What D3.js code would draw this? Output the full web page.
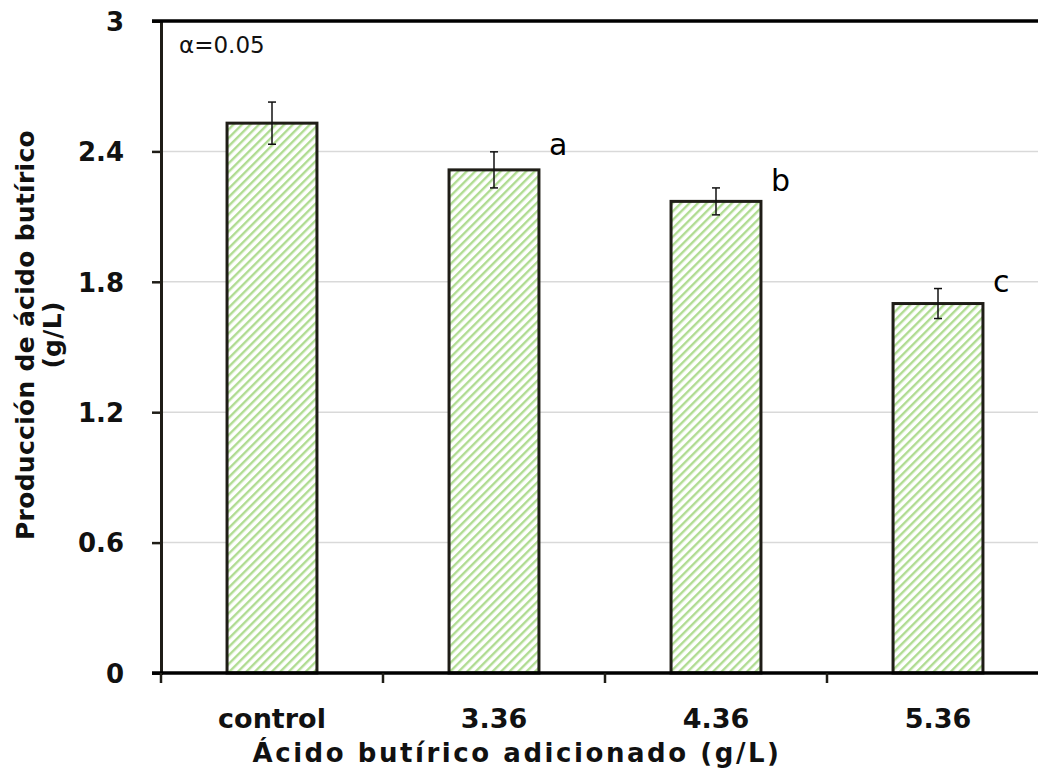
<!DOCTYPE html>
<html>
<head>
<meta charset="utf-8">
<script src="https://cdn.jsdelivr.net/npm/d3@7"></script>
<style>
  body { margin: 0; background: #fff; }
  svg { display: block; }
  svg text { font-family: "DejaVu Sans", sans-serif; }
</style>
</head>
<body>
<div id="chart"></div>
<script>
const categories = ["control", "3.36", "4.36", "5.36"]
const values = [2.53, 2.315, 2.17, 1.70]
const errors = [0.097, 0.083, 0.062, 0.069]
const letters = ["", "a", "b", "c"]
const yTicks = [0, 0.6, 1.2, 1.8, 2.4, 3]

const width = 1038
const height = 771
const margin = { top: 21, right: 0, bottom: 98, left: 161 }

const svg = d3.select("#chart")
  .append("svg")
  .attr("width", width)
  .attr("height", height)

// spread a text out to a wanted width with letter spacing
function spreadTo(sel, target) {
  const node = sel.node()
  const w = node.getComputedTextLength()
  const n = node.textContent.length
  if (w > 0 && n > 1) sel.style("letter-spacing", ((target - w) / n) + "px")
}

// stripe pattern for the bars
const defs = svg.append("defs")
const pattern = defs.append("pattern")
  .attr("id", "stripes")
  .attr("patternUnits", "userSpaceOnUse")
  .attr("width", 6)
  .attr("height", 6)
  .attr("patternTransform", "rotate(45)")
pattern.append("rect")
  .attr("width", 6).attr("height", 6).attr("fill", "#fff")
pattern.append("rect")
  .attr("width", 2.4).attr("height", 6).attr("fill", "#b0dc92")

const xScale = d3.scaleBand()
  .domain(categories)
  .range([margin.left, 1049])
  .paddingInner(0.595)
  .paddingOuter(0.2975)

const yScale = d3.scaleLinear()
  .domain([0, 3])
  .range([height - margin.bottom, margin.top])

// gridlines
svg.append("g")
  .selectAll("line")
  .data(yTicks.filter(d => d > 0 && d < 3))
  .enter()
  .append("line")
  .attr("x1", margin.left)
  .attr("x2", width)
  .attr("y1", d => yScale(d))
  .attr("y2", d => yScale(d))
  .attr("stroke", "#d9d9d9")
  .attr("stroke-width", 1.5)

// bars
svg.append("g")
  .selectAll("rect")
  .data(values)
  .enter()
  .append("rect")
  .attr("x", (d, i) => xScale(categories[i]))
  .attr("y", d => yScale(d))
  .attr("width", xScale.bandwidth())
  .attr("height", d => yScale(0) - yScale(d))
  .attr("fill", "url(#stripes)")
  .attr("stroke", "#1f1d17")
  .attr("stroke-width", 3)

// error bars
const cap = 4
const err = svg.append("g")
  .attr("stroke", "#111")
  .attr("stroke-width", 1.5)
values.forEach((v, i) => {
  const cx = xScale(categories[i]) + xScale.bandwidth() / 2
  const top = yScale(v + errors[i])
  const bot = yScale(v - errors[i])
  err.append("line").attr("x1", cx).attr("x2", cx).attr("y1", top).attr("y2", bot)
  err.append("line").attr("x1", cx - cap).attr("x2", cx + cap).attr("y1", top).attr("y2", top)
  err.append("line").attr("x1", cx - cap).attr("x2", cx + cap).attr("y1", bot).attr("y2", bot)
})

// significance letters
svg.append("g")
  .selectAll("text")
  .data(letters)
  .enter()
  .append("text")
  .attr("x", (d, i) => xScale(categories[i]) + xScale.bandwidth() / 2 + 55)
  .attr("y", (d, i) => yScale(values[i] + errors[i]) + 3)
  .style("font-size", "30px")
  .attr("fill", "#000")
  .text(d => d)

// Y axis
const yAxis = svg.append("g")
  .attr("transform", `translate(${margin.left},0)`)
  .call(d3.axisLeft(yScale).tickValues(yTicks).tickFormat(d => d).tickSize(9).tickPadding(28))
yAxis.attr("font-family", null).attr("font-size", null)
yAxis.select(".domain").attr("stroke", "#1f1d17").attr("stroke-width", 3)
yAxis.selectAll(".tick line").attr("stroke", "#1f1d17").attr("stroke-width", 2.5)
yAxis.selectAll("text")
  .style("font-size", "26px")
  .style("font-weight", "bold")
  .attr("fill", "#111")
  .attr("dy", "0.36em")

// top border
svg.append("line")
  .attr("x1", margin.left - 9)
  .attr("x2", width)
  .attr("y1", yScale(3))
  .attr("y2", yScale(3))
  .attr("stroke", "#000")
  .attr("stroke-width", 3.5)

// X axis
const xTickPos = categories.map(c => xScale(c) - xScale.step() * xScale.paddingInner() / 2)
const xAxis = svg.append("g")
xAxis.append("line")
  .attr("x1", margin.left - 9)
  .attr("x2", width)
  .attr("y1", yScale(0))
  .attr("y2", yScale(0))
  .attr("stroke", "#000")
  .attr("stroke-width", 3.5)
xAxis.selectAll(".xtick")
  .data(xTickPos)
  .enter()
  .append("line")
  .attr("x1", d => d)
  .attr("x2", d => d)
  .attr("y1", yScale(0))
  .attr("y2", yScale(0) + 10)
  .attr("stroke", "#1f1d17")
  .attr("stroke-width", 2.5)
xAxis.selectAll("text")
  .data(categories)
  .enter()
  .append("text")
  .attr("x", d => xScale(d) + xScale.bandwidth() / 2)
  .attr("y", 728)
  .attr("text-anchor", "middle")
  .style("font-size", "27px")
  .style("font-weight", "bold")
  .attr("fill", "#111")
  .text(d => d)

// axis titles
const xTitle = svg.append("text")
  .attr("x", 517)
  .attr("y", 762)
  .attr("text-anchor", "middle")
  .style("font-size", "26px")
  .style("font-weight", "bold")
  .attr("fill", "#111")
  .text("Ácido butírico adicionado (g/L)")
spreadTo(xTitle, 529)

const yTitle = svg.append("text")
  .attr("transform", "translate(34,335) rotate(-90)")
  .attr("text-anchor", "middle")
  .style("font-size", "25px")
  .style("font-weight", "bold")
  .attr("fill", "#111")
const line1 = yTitle.append("tspan").attr("x", 0).attr("y", 0).text("Producción de ácido butírico")
yTitle.append("tspan").attr("x", 0).attr("y", 27).text("(g/L)")
const w1 = line1.node().getComputedTextLength()
if (w1 > 0) yTitle.style("letter-spacing", ((410 - w1) / 28) + "px")

// alpha note
svg.append("text")
  .attr("x", 179)
  .attr("y", 53)
  .style("font-size", "23px")
  .attr("fill", "#111")
  .text("α=0.05")
</script>
</body>
</html>
